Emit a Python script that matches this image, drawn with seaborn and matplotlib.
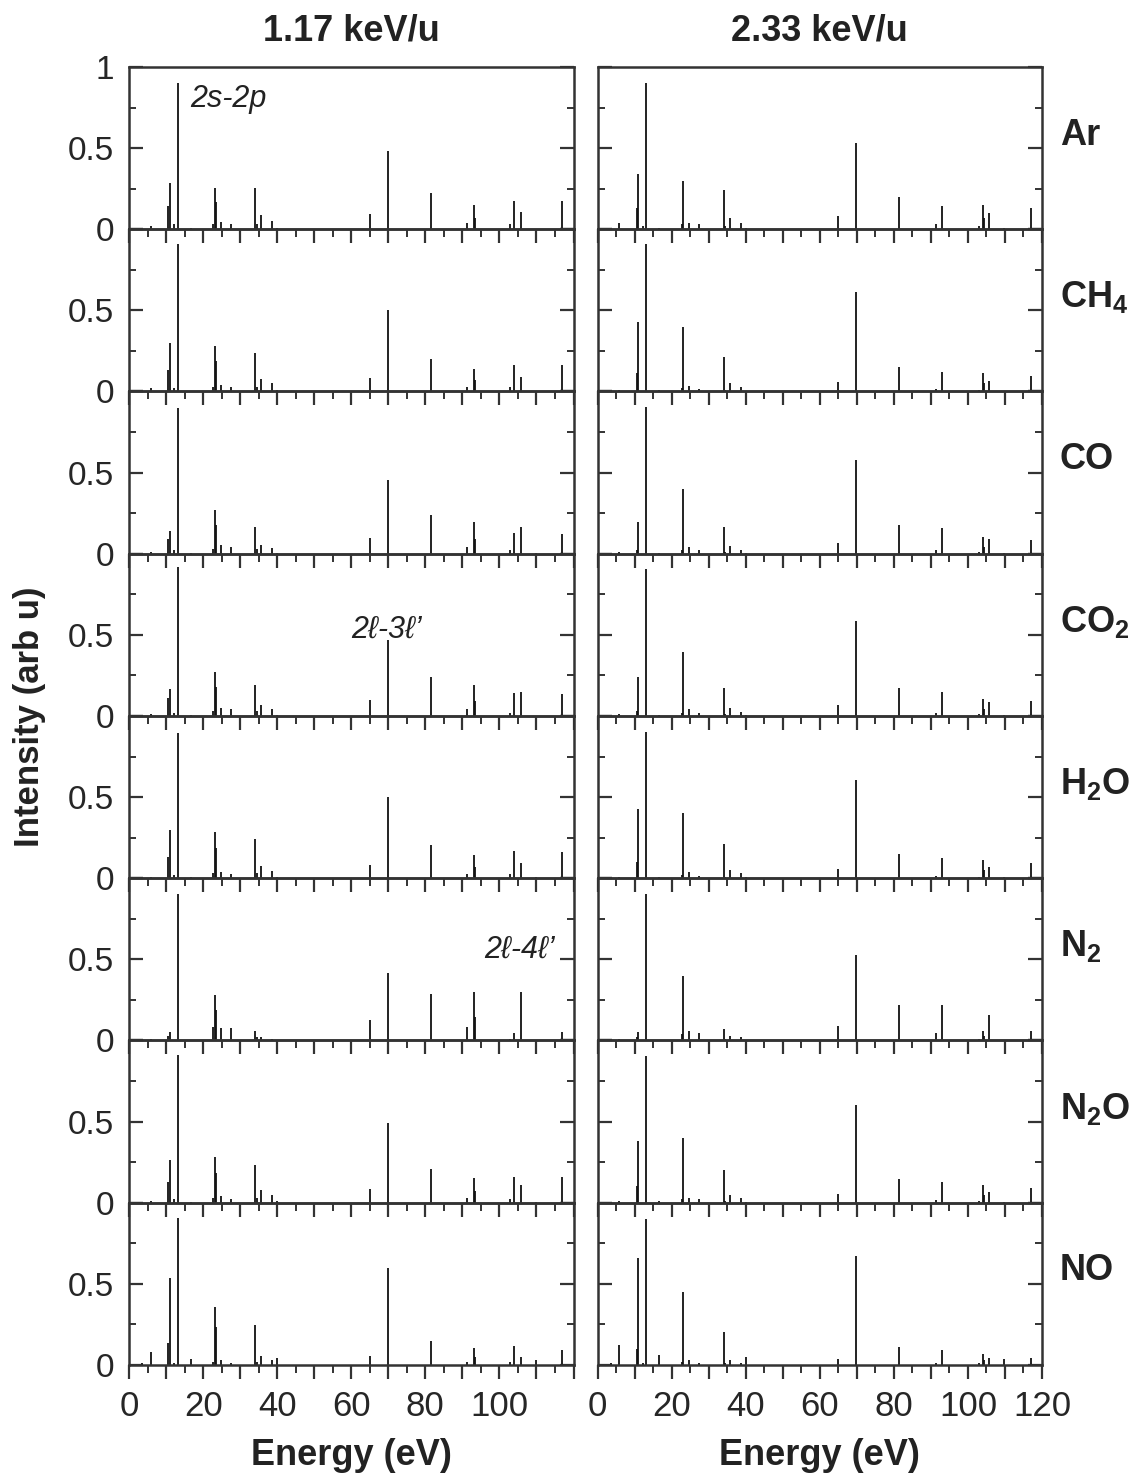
import numpy as np
import pandas as pd
import matplotlib
matplotlib.use("Agg")
import matplotlib.pyplot as plt
import seaborn as sns
from matplotlib.ticker import MultipleLocator, FuncFormatter

# ---------------- data ----------------
energies = [3.6, 5.9, 10.6, 11.0, 12.2, 13.2, 16.7, 22.7, 23.1, 23.4, 24.7, 27.4,
            34.1, 34.5, 35.7, 38.7, 40.0, 65.0, 69.8, 81.5, 91.3, 93.1, 93.4,
            102.9, 104.0, 104.3, 105.8, 109.8, 117.0]

targets = ["Ar", "CH4", "CO", "CO2", "H2O", "N2", "N2O", "NO"]
target_labels = ["Ar", r"CH$_\mathbf{4}$", "CO", r"CO$_\mathbf{2}$", r"H$_\mathbf{2}$O",
                 r"N$_\mathbf{2}$", r"N$_\mathbf{2}$O", "NO"]
beams = ["1.17 keV/u", "2.33 keV/u"]

# 1.17 keV/u
ar_117 = [0.01, 0.02, 0.14, 0.286, 0.03, 0.90, 0.005, 0.03, 0.255, 0.167, 0.045, 0.03, 0.255, 0.03, 0.086, 0.053, 0.01, 0.096, 0.48, 0.224, 0.037, 0.149, 0.07, 0.03, 0.171, 0.0, 0.104, 0.0, 0.171]
ch4_117 = [0.005, 0.02, 0.135, 0.30, 0.02, 0.907, 0.005, 0.03, 0.28, 0.186, 0.04, 0.025, 0.24, 0.03, 0.077, 0.05, 0.01, 0.083, 0.50, 0.203, 0.025, 0.139, 0.07, 0.025, 0.166, 0.0, 0.091, 0.005, 0.164]
co_117 = [0.005, 0.01, 0.09, 0.138, 0.02, 0.90, 0.005, 0.03, 0.268, 0.175, 0.052, 0.04, 0.165, 0.03, 0.056, 0.035, 0.005, 0.099, 0.454, 0.237, 0.04, 0.196, 0.09, 0.02, 0.128, 0.0, 0.163, 0.005, 0.124]
co2_117 = [0.005, 0.01, 0.108, 0.169, 0.02, 0.915, 0.005, 0.03, 0.273, 0.18, 0.052, 0.044, 0.19, 0.03, 0.065, 0.04, 0.005, 0.10, 0.469, 0.24, 0.04, 0.19, 0.09, 0.02, 0.144, 0.0, 0.15, 0.0, 0.135]
h2o_117 = [0.005, 0.01, 0.13, 0.296, 0.02, 0.895, 0.005, 0.03, 0.282, 0.185, 0.04, 0.025, 0.24, 0.03, 0.075, 0.045, 0.01, 0.084, 0.498, 0.204, 0.025, 0.142, 0.07, 0.025, 0.165, 0.0, 0.095, 0.005, 0.16]
n2_117 = [0.0, 0.01, 0.03, 0.05, 0.0, 0.90, 0.005, 0.08, 0.28, 0.19, 0.079, 0.079, 0.06, 0.02, 0.02, 0.01, 0.005, 0.127, 0.417, 0.286, 0.081, 0.299, 0.143, 0.01, 0.045, 0.0, 0.30, 0.0, 0.05]
n2o_117 = [0.005, 0.01, 0.13, 0.266, 0.02, 0.909, 0.005, 0.03, 0.282, 0.183, 0.04, 0.025, 0.23, 0.03, 0.077, 0.045, 0.01, 0.085, 0.49, 0.21, 0.03, 0.151, 0.07, 0.025, 0.16, 0.0, 0.106, 0.005, 0.156]
no_117 = [0.01, 0.079, 0.136, 0.533, 0.01, 0.905, 0.035, 0.02, 0.357, 0.236, 0.03, 0.01, 0.248, 0.02, 0.054, 0.029, 0.04, 0.056, 0.597, 0.149, 0.015, 0.105, 0.05, 0.015, 0.118, 0.0, 0.048, 0.03, 0.095]

# 2.33 keV/u
ar_233 = [0.01, 0.04, 0.13, 0.343, 0.02, 0.90, 0.01, 0.03, 0.30, 0.0, 0.04, 0.03, 0.24, 0.02, 0.07, 0.04, 0.01, 0.08, 0.53, 0.20, 0.03, 0.145, 0.0, 0.02, 0.15, 0.07, 0.10, 0.01, 0.13]
ch4_233 = [0.0, 0.01, 0.115, 0.427, 0.0, 0.91, 0.01, 0.02, 0.40, 0.0, 0.035, 0.015, 0.2125, 0.01, 0.052, 0.03, 0.005, 0.056, 0.61, 0.15, 0.015, 0.119, 0.0, 0.01, 0.1125, 0.05, 0.0625, 0.005, 0.096]
co_233 = [0.0, 0.01, 0.02, 0.195, 0.0, 0.905, 0.005, 0.02, 0.396, 0.0, 0.04, 0.025, 0.162, 0.01, 0.048, 0.025, 0.005, 0.068, 0.577, 0.178, 0.02, 0.158, 0.0, 0.01, 0.10, 0.04, 0.091, 0.005, 0.087]
co2_233 = [0.0, 0.01, 0.03, 0.237, 0.0, 0.906, 0.005, 0.02, 0.392, 0.0, 0.04, 0.02, 0.174, 0.01, 0.052, 0.025, 0.005, 0.066, 0.585, 0.174, 0.02, 0.149, 0.0, 0.01, 0.104, 0.04, 0.087, 0.005, 0.093]
h2o_233 = [0.0, 0.01, 0.1, 0.425, 0.0, 0.90, 0.01, 0.02, 0.40, 0.0, 0.04, 0.015, 0.21, 0.01, 0.052, 0.03, 0.005, 0.056, 0.604, 0.147, 0.015, 0.122, 0.0, 0.01, 0.11, 0.05, 0.066, 0.005, 0.093]
n2_233 = [0.0, 0.01, 0.02, 0.051, 0.0, 0.90, 0.005, 0.04, 0.397, 0.0, 0.06, 0.045, 0.07, 0.01, 0.03, 0.02, 0.005, 0.086, 0.529, 0.216, 0.045, 0.216, 0.0, 0.01, 0.06, 0.03, 0.154, 0.005, 0.06]
n2o_233 = [0.0, 0.01, 0.1, 0.378, 0.0, 0.906, 0.01, 0.02, 0.398, 0.0, 0.03, 0.02, 0.20, 0.01, 0.05, 0.03, 0.005, 0.054, 0.60, 0.149, 0.015, 0.127, 0.0, 0.01, 0.112, 0.05, 0.066, 0.005, 0.093]
no_233 = [0.01, 0.123, 0.1, 0.656, 0.01, 0.90, 0.062, 0.02, 0.447, 0.0, 0.03, 0.01, 0.20, 0.01, 0.03, 0.01, 0.051, 0.037, 0.669, 0.109, 0.01, 0.095, 0.0, 0.01, 0.066, 0.03, 0.045, 0.035, 0.045]

annotations = [("Ar", "2s-2p", 16.5, 0.80),
               ("CO2", "2ℓ-3ℓ’", 60.0, 0.53),
               ("N2", "2ℓ-4ℓ’", 96.0, 0.56)]

# ---------------- style ----------------
sns.set_style("ticks")
plt.rcParams['font.family'] = ['Liberation Sans', 'DejaVu Sans']
plt.rcParams['mathtext.fontset'] = 'custom'
plt.rcParams['mathtext.rm'] = 'Liberation Sans'
plt.rcParams['mathtext.bf'] = 'Liberation Sans:bold'
plt.rcParams['mathtext.it'] = 'Liberation Sans:italic'

series = {
    ("Ar", beams[0]): ar_117, ("CH4", beams[0]): ch4_117, ("CO", beams[0]): co_117,
    ("CO2", beams[0]): co2_117, ("H2O", beams[0]): h2o_117, ("N2", beams[0]): n2_117,
    ("N2O", beams[0]): n2o_117, ("NO", beams[0]): no_117,
    ("Ar", beams[1]): ar_233, ("CH4", beams[1]): ch4_233, ("CO", beams[1]): co_233,
    ("CO2", beams[1]): co2_233, ("H2O", beams[1]): h2o_233, ("N2", beams[1]): n2_233,
    ("N2O", beams[1]): n2o_233, ("NO", beams[1]): no_233,
}
rows = []
for (t, b), vals in series.items():
    for e, v in zip(energies, vals):
        if v > 0:
            rows.append((t, b, e, v))
df = pd.DataFrame(rows, columns=["target", "beam", "energy", "intensity"])

W, H = 11.33, 14.78
g = sns.FacetGrid(df, row="target", col="beam", row_order=targets, col_order=beams,
                  height=H / 8, aspect=(W / 2) / (H / 8), sharex=False, sharey=False,
                  despine=False)


def sticks(data, **kw):
    ax = plt.gca()
    ax.vlines(data["energy"], 0, data["intensity"], colors="#111111", lw=1.3)


g.map_dataframe(sticks)

fig = g.figure
fig.set_size_inches(W, H)
fig.subplots_adjust(left=0.1139, right=0.9197, top=0.9547, bottom=0.0765,
                    wspace=0.054, hspace=0.0)
fig.patch.set_facecolor("white")

spine_col = "#333333"
for i, t in enumerate(targets):
    for j, b in enumerate(beams):
        ax = g.axes[i, j]
        ax.set_title("")
        ax.set_xlabel("")
        ax.set_ylabel("")
        ax.set_facecolor("none")
        ax.set_xlim(0, 120)
        ax.set_ylim(0, 1)
        for s in ax.spines.values():
            s.set_linewidth(1.8)
            s.set_color(spine_col)
        ax.xaxis.set_major_locator(MultipleLocator(10))
        ax.xaxis.set_minor_locator(MultipleLocator(5))
        ax.yaxis.set_major_locator(MultipleLocator(0.5))
        ax.yaxis.set_minor_locator(MultipleLocator(0.25))
        right_col = (j == 1)
        ax.xaxis.set_major_formatter(FuncFormatter(
            lambda v, p, rc=right_col: (f"{v:.0f}" if (abs(v % 20) < 1e-6 and (v <= 100.5 or rc)) else "")))
        top_row = (i == 0)
        ax.yaxis.set_major_formatter(FuncFormatter(
            lambda v, p, tr=top_row: ("0" if abs(v) < 1e-6 else ("0.5" if abs(v - 0.5) < 1e-6 else ("1" if tr else "")))))
        ax.tick_params(axis="x", which="both", direction="out", bottom=True, top=False,
                       color=spine_col, labelsize=25, pad=8,
                       labelbottom=(i == len(targets) - 1))
        ax.tick_params(axis="x", which="major", length=10, width=1.6)
        ax.tick_params(axis="x", which="minor", length=5.5, width=1.4)
        ax.tick_params(axis="y", which="both", direction="in", left=True, right=True,
                       color=spine_col, labelsize=24, pad=11, labelleft=(j == 0))
        ax.tick_params(axis="y", which="major", length=10, width=1.6)
        ax.tick_params(axis="y", which="minor", length=5, width=1.4)
        if j == 1:
            ax.text(1.04, 0.58, target_labels[i], transform=ax.transAxes, ha="left",
                    va="center", fontsize=26, fontweight="bold", color="#222222")

for t, txt, x, y in annotations:
    ax = g.axes[targets.index(t), 0]
    ax.text(x, y, txt, ha="left", va="center", fontsize=22, style="italic",
            color="#222222", family=['Liberation Sans', 'DejaVu Sans'])

for j, b in enumerate(beams):
    pos = g.axes[0, j].get_position()
    cx = (pos.x0 + pos.x1) / 2
    fig.text(cx, 0.979, b, ha="center", va="center", fontsize=26, fontweight="bold",
             color="#222222")
    fig.text(cx, 0.015, "Energy (eV)", ha="center", va="center", fontsize=26,
             fontweight="bold", color="#222222")

fig.text(0.026, 0.515, "Intensity (arb u)", rotation=90, ha="center", va="center",
         fontsize=25, fontweight="bold", color="#222222")

fig.savefig("out.png", dpi=100, facecolor="white")
